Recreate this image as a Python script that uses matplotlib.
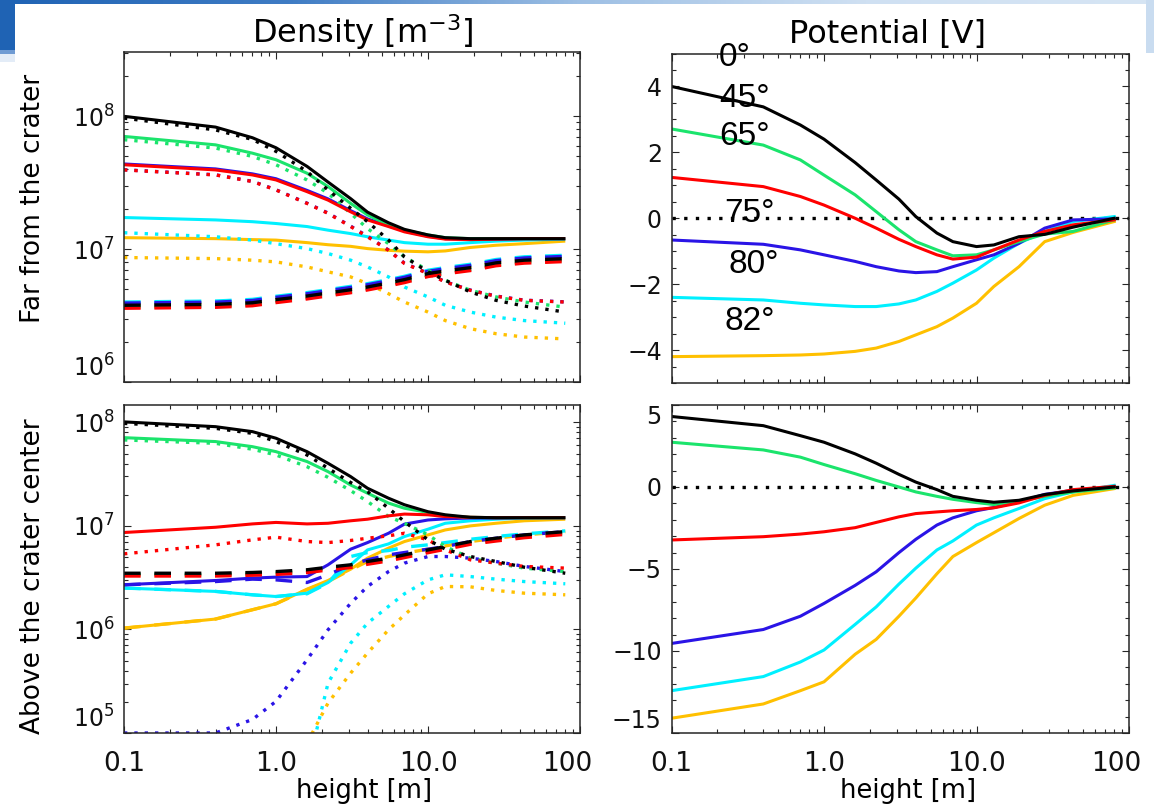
import numpy as np
import matplotlib
matplotlib.use("Agg")
import matplotlib.pyplot as plt
from matplotlib.colors import LinearSegmentedColormap
from matplotlib.patches import Rectangle
from matplotlib.ticker import (FixedLocator, FixedFormatter, LogLocator,
                               LogFormatterMathtext, MultipleLocator, NullFormatter)
from matplotlib.transforms import ScaledTranslation

nan = np.nan

# ---------------------------------------------------------------- data
height = [0.1, 0.4, 0.7, 1.0, 1.6, 2.2, 3.1, 4.0, 5.5, 7.0, 10.0, 13.0, 19.0, 28.0, 43.0, 80.0]

angles = ["0°", "45°", "65°", "75°", "80°", "82°"]
x_ticks = [0.1, 1.0, 10.0, 100.0]
x_tick_labels = ["0.1", "1.0", "10.0", "100"]

# density far from the crater [m^-3]
far_black_solid = [1.0e8, 8.3e7, 6.9e7, 5.8e7, 4.2e7, 3.2e7, 2.4e7, 1.9e7, 1.58e7, 1.41e7, 1.28e7, 1.22e7, 1.2e7, 1.2e7, 1.2e7, 1.2e7]
far_black_dotted = [9.7e7, 7.9e7, 6.7e7, 5.45e7, 3.84e7, 2.79e7, 2.03e7, 1.61e7, 1.17e7, 8.75e6, 6.75e6, 5.83e6, 4.76e6, 4.12e6, 3.73e6, 3.36e6]
far_black_dashed = [3.78e6, 3.84e6, 3.95e6, 4.17e6, 4.44e6, 4.68e6, 4.95e6, 5.19e6, 5.57e6, 5.9e6, 6.55e6, 6.86e6, 7.26e6, 7.89e6, 8.26e6, 8.49e6]
far_green_solid = [7.06e7, 6.1e7, 5.28e7, 4.71e7, 3.73e7, 2.96e7, 2.21e7, 1.81e7, 1.52e7, 1.39e7, 1.28e7, 1.22e7, 1.2e7, 1.2e7, 1.2e7, 1.2e7]
far_green_dotted = [6.67e7, 5.77e7, 4.99e7, 4.32e7, 3.32e7, 2.64e7, 1.86e7, 1.43e7, 1.1e7, 8.75e6, 6.93e6, 5.83e6, 4.9e6, 4.37e6, 4.0e6, 3.66e6]
far_green_dashed = [3.67e6, 3.72e6, 3.83e6, 4.04e6, 4.31e6, 4.54e6, 4.8e6, 5.03e6, 5.4e6, 5.72e6, 6.35e6, 6.65e6, 7.04e6, 7.65e6, 8.01e6, 8.24e6]
far_red_solid = [4.32e7, 3.95e7, 3.62e7, 3.32e7, 2.71e7, 2.34e7, 1.91e7, 1.66e7, 1.48e7, 1.35e7, 1.24e7, 1.19e7, 1.18e7, 1.19e7, 1.2e7, 1.2e7]
far_red_dotted = [3.95e7, 3.62e7, 3.23e7, 2.79e7, 2.21e7, 1.86e7, 1.48e7, 1.24e7, 9.8e6, 7.8e6, 6.55e6, 5.66e6, 4.9e6, 4.42e6, 4.12e6, 4.0e6]
far_red_dashed = [3.59e6, 3.65e6, 3.75e6, 3.96e6, 4.22e6, 4.45e6, 4.7e6, 4.93e6, 5.29e6, 5.6e6, 6.22e6, 6.52e6, 6.9e6, 7.5e6, 7.85e6, 8.07e6]
far_blue_solid = [4.38e7, 4.02e7, 3.69e7, 3.39e7, 2.77e7, 2.39e7, 1.95e7, 1.69e7, 1.5e7, 1.37e7, 1.25e7, 1.2e7, 1.19e7, 1.19e7, 1.2e7, 1.2e7]
far_blue_dotted = [3.96e7, 3.63e7, 3.24e7, 2.8e7, 2.22e7, 1.87e7, 1.49e7, 1.25e7, 9.85e6, 7.84e6, 6.58e6, 5.68e6, 4.92e6, 4.44e6, 4.13e6, 4.01e6]
far_blue_dashed = [3.93e6, 3.99e6, 4.11e6, 4.34e6, 4.62e6, 4.87e6, 5.15e6, 5.4e6, 5.79e6, 6.14e6, 6.81e6, 7.13e6, 7.55e6, 8.2e6, 8.59e6, 8.83e6]
far_cyan_solid = [1.73e7, 1.66e7, 1.61e7, 1.56e7, 1.48e7, 1.39e7, 1.31e7, 1.24e7, 1.17e7, 1.12e7, 1.09e7, 1.09e7, 1.12e7, 1.15e7, 1.17e7, 1.19e7]
far_cyan_dotted = [1.33e7, 1.24e7, 1.17e7, 1.1e7, 1.01e7, 9.27e6, 8.26e6, 7.35e6, 6.18e6, 5.19e6, 4.37e6, 3.78e6, 3.36e6, 3.08e6, 2.9e6, 2.77e6]
far_cyan_dashed = [4.0e6, 4.07e6, 4.19e6, 4.42e6, 4.71e6, 4.96e6, 5.25e6, 5.5e6, 5.9e6, 6.25e6, 6.94e6, 7.27e6, 7.7e6, 8.36e6, 8.76e6, 9.0e6]
far_orange_solid = [1.22e7, 1.2e7, 1.18e7, 1.17e7, 1.12e7, 1.08e7, 1.05e7, 1.01e7, 9.8e6, 9.66e6, 9.55e6, 9.7e6, 1.03e7, 1.07e7, 1.1e7, 1.15e7]
far_orange_dotted = [8.65e6, 8.49e6, 8.26e6, 8.02e6, 7.35e6, 6.75e6, 6.18e6, 5.51e6, 4.62e6, 4.0e6, 3.36e6, 2.9e6, 2.52e6, 2.31e6, 2.18e6, 2.11e6]
far_orange_dashed = [3.86e6, 3.92e6, 4.03e6, 4.25e6, 4.53e6, 4.77e6, 5.05e6, 5.29e6, 5.68e6, 6.02e6, 6.68e6, 7.0e6, 7.4e6, 8.05e6, 8.43e6, 8.66e6]

# density above the crater center [m^-3]
ctr_black_solid = [1.01e8, 9.08e7, 8.13e7, 7.02e7, 5.21e7, 4.02e7, 2.99e7, 2.31e7, 1.85e7, 1.6e7, 1.37e7, 1.28e7, 1.21e7, 1.2e7, 1.2e7, 1.2e7]
ctr_black_dotted = [9.77e7, 8.75e7, 7.83e7, 6.52e7, 4.84e7, 3.6e7, 2.62e7, 2.14e7, 1.48e7, 1.1e7, 7.33e6, 5.96e6, 5.06e6, 4.53e6, 3.99e6, 3.49e6]
ctr_black_dashed = [3.49e6, 3.49e6, 3.55e6, 3.62e6, 3.77e6, 3.99e6, 4.21e6, 4.53e6, 4.88e6, 5.25e6, 5.86e6, 6.32e6, 7.06e6, 7.6e6, 8.18e6, 8.81e6]
ctr_green_solid = [7.11e7, 6.52e7, 5.82e7, 5.21e7, 4.18e7, 3.34e7, 2.48e7, 2.07e7, 1.66e7, 1.48e7, 1.35e7, 1.25e7, 1.21e7, 1.2e7, 1.2e7, 1.2e7]
ctr_green_dotted = [6.76e7, 6.27e7, 5.5e7, 4.84e7, 3.73e7, 2.94e7, 2.19e7, 1.72e7, 1.23e7, 1.06e7, 8.18e6, 6.32e6, 4.88e6, 4.37e6, 3.91e6, 3.62e6]
ctr_green_dashed = [3.39e6, 3.39e6, 3.44e6, 3.51e6, 3.66e6, 3.87e6, 4.08e6, 4.39e6, 4.73e6, 5.09e6, 5.68e6, 6.13e6, 6.85e6, 7.37e6, 7.93e6, 8.55e6]
ctr_red_solid = [8.63e6, 9.7e6, 1.045e7, 1.08e7, 1.045e7, 1.06e7, 1.12e7, 1.16e7, 1.25e7, 1.3e7, 1.28e7, 1.23e7, 1.21e7, 1.2e7, 1.2e7, 1.2e7]
ctr_red_dotted = [5.37e6, 6.56e6, 7.33e6, 7.78e6, 7.06e6, 6.9e6, 7.23e6, 7.6e6, 8.02e6, 8.49e6, 7.33e6, 5.86e6, 4.7e6, 4.37e6, 4.06e6, 3.91e6]
ctr_red_dashed = [3.28e6, 3.28e6, 3.34e6, 3.4e6, 3.54e6, 3.75e6, 3.96e6, 4.26e6, 4.59e6, 4.94e6, 5.51e6, 5.94e6, 6.64e6, 7.14e6, 7.69e6, 8.28e6]
ctr_blue_solid = [2.7e6, 2.97e6, 3.13e6, 3.2e6, 3.24e6, 4.21e6, 5.96e6, 6.9e6, 8.49e6, 1.04e7, 1.14e7, 1.17e7, 1.19e7, 1.19e7, 1.2e7, 1.2e7]
ctr_blue_dotted = [1.0e5, 1.0e5, 1.35e5, 2.02e5, 5.09e5, 9.93e5, 1.79e6, 2.6e6, 3.62e6, 4.37e6, 5.06e6, 5.06e6, 4.88e6, 4.53e6, 4.06e6, 3.62e6]
ctr_blue_dashed = [2.7e6, 2.9e6, 3.06e6, 3.01e6, 2.84e6, 3.37e6, 4.21e6, 4.7e6, 5.25e6, 5.53e6, 5.96e6, 6.32e6, 7.06e6, 7.6e6, 8.18e6, 8.81e6]
ctr_cyan_solid = [2.51e6, 2.33e6, 2.16e6, 2.08e6, 2.24e6, 2.84e6, 4.21e6, 5.86e6, 6.7e6, 7.89e6, 9.29e6, 1.06e7, 1.12e7, 1.16e7, 1.19e7, 1.2e7]
ctr_cyan_dotted = [nan, nan, nan, nan, 4.43e4, 3.03e5, 7.38e5, 1.15e6, 1.67e6, 2.21e6, 3.01e6, 3.37e6, 3.24e6, 3.06e6, 2.9e6, 2.76e6]
ctr_cyan_dashed = [2.51e6, 2.33e6, 2.16e6, 2.08e6, 2.21e6, 2.8e6, 5.06e6, 5.53e6, 5.78e6, 6.22e6, 6.56e6, 6.9e6, 7.43e6, 7.89e6, 8.38e6, 8.95e6]
ctr_orange_solid = [1.03e6, 1.26e6, 1.55e6, 1.77e6, 2.45e6, 2.97e6, 3.82e6, 4.88e6, 6.1e6, 7.06e6, 8.18e6, 9.14e6, 1.0e7, 1.06e7, 1.12e7, 1.16e7]
ctr_orange_dotted = [nan, nan, nan, nan, 8.0e4, 1.95e5, 3.79e5, 5.91e5, 9.93e5, 1.38e6, 2.21e6, 2.6e6, 2.58e6, 2.38e6, 2.24e6, 2.16e6]
ctr_orange_dashed = [1.03e6, 1.26e6, 1.55e6, 1.77e6, 2.42e6, 2.9e6, 3.77e6, 4.53e6, 5.06e6, 5.45e6, 5.96e6, 6.41e6, 7.06e6, 7.6e6, 8.18e6, 8.81e6]

# potential [V]
far_pot_black = [4.0, 3.38, 2.83, 2.40, 1.69, 1.16, 0.58, 0.05, -0.45, -0.71, -0.86, -0.81, -0.56, -0.49, -0.27, 0.0]
far_pot_green = [2.71, 2.22, 1.77, 1.31, 0.71, 0.20, -0.35, -0.71, -0.96, -1.14, -1.11, -0.96, -0.71, -0.48, -0.40, -0.05]
far_pot_red = [1.24, 0.96, 0.66, 0.40, 0.0, -0.30, -0.64, -0.86, -1.11, -1.24, -1.18, -0.96, -0.66, -0.40, -0.20, -0.05]
far_pot_blue = [-0.66, -0.79, -0.96, -1.11, -1.31, -1.47, -1.60, -1.65, -1.62, -1.47, -1.26, -1.11, -0.76, -0.30, -0.05, -0.02]
far_pot_cyan = [-2.40, -2.48, -2.58, -2.63, -2.68, -2.68, -2.60, -2.48, -2.22, -1.97, -1.57, -1.21, -0.76, -0.40, -0.10, 0.05]
far_pot_orange = [-4.20, -4.17, -4.15, -4.12, -4.04, -3.94, -3.74, -3.54, -3.29, -3.03, -2.58, -2.07, -1.47, -0.71, -0.43, -0.10]

ctr_pot_black = [4.30, 3.74, 3.13, 2.73, 2.02, 1.45, 0.77, 0.30, -0.16, -0.57, -0.81, -0.93, -0.81, -0.46, -0.24, 0.0]
ctr_pot_green = [2.73, 2.26, 1.82, 1.37, 0.81, 0.40, 0.0, -0.30, -0.57, -0.75, -0.95, -1.07, -0.87, -0.57, -0.30, -0.06]
ctr_pot_red = [-3.23, -3.03, -2.87, -2.73, -2.48, -2.16, -1.82, -1.62, -1.52, -1.45, -1.37, -1.27, -0.97, -0.51, -0.16, 0.04]
ctr_pot_blue = [-9.54, -8.69, -7.88, -7.10, -6.00, -5.17, -4.00, -3.19, -2.32, -1.88, -1.45, -1.25, -0.90, -0.45, -0.20, 0.0]
ctr_pot_cyan = [-12.42, -11.56, -10.67, -9.94, -8.38, -7.31, -5.92, -4.95, -3.84, -3.29, -2.32, -1.88, -1.31, -0.71, -0.30, 0.10]
ctr_pot_orange = [-14.1, -13.23, -12.42, -11.88, -10.2, -9.29, -7.88, -6.77, -5.29, -4.24, -3.39, -2.79, -1.92, -1.11, -0.51, -0.10]

# ---------------------------------------------------------------- styling
COLORS = {"black": "#000000", "green": "#1be46c", "red": "#ff0000",
          "blue": "#2a14e6", "cyan": "#00f0ff", "orange": "#ffc000"}
DRAW_ORDER = ["orange", "cyan", "blue", "green", "red", "black"]
LINESTYLES = {"solid": dict(lw=2.2, ls="-"),
              "dotted": dict(lw=2.4, ls=(0, (1.0, 2.1))),
              "dashed": dict(lw=2.4, ls=(0, (5.0, 4.1)))}

far_density = {
    ("black", "solid"): far_black_solid, ("black", "dotted"): far_black_dotted, ("black", "dashed"): far_black_dashed,
    ("green", "solid"): far_green_solid, ("green", "dotted"): far_green_dotted, ("green", "dashed"): far_green_dashed,
    ("red", "solid"): far_red_solid, ("red", "dotted"): far_red_dotted, ("red", "dashed"): far_red_dashed,
    ("blue", "solid"): far_blue_solid, ("blue", "dotted"): far_blue_dotted, ("blue", "dashed"): far_blue_dashed,
    ("cyan", "solid"): far_cyan_solid, ("cyan", "dotted"): far_cyan_dotted, ("cyan", "dashed"): far_cyan_dashed,
    ("orange", "solid"): far_orange_solid, ("orange", "dotted"): far_orange_dotted, ("orange", "dashed"): far_orange_dashed,
}
ctr_density = {
    ("black", "solid"): ctr_black_solid, ("black", "dotted"): ctr_black_dotted, ("black", "dashed"): ctr_black_dashed,
    ("green", "solid"): ctr_green_solid, ("green", "dotted"): ctr_green_dotted, ("green", "dashed"): ctr_green_dashed,
    ("red", "solid"): ctr_red_solid, ("red", "dotted"): ctr_red_dotted, ("red", "dashed"): ctr_red_dashed,
    ("blue", "solid"): ctr_blue_solid, ("blue", "dotted"): ctr_blue_dotted, ("blue", "dashed"): ctr_blue_dashed,
    ("cyan", "solid"): ctr_cyan_solid, ("cyan", "dotted"): ctr_cyan_dotted, ("cyan", "dashed"): ctr_cyan_dashed,
    ("orange", "solid"): ctr_orange_solid, ("orange", "dotted"): ctr_orange_dotted, ("orange", "dashed"): ctr_orange_dashed,
}
far_potential = {"black": far_pot_black, "green": far_pot_green, "red": far_pot_red,
                 "blue": far_pot_blue, "cyan": far_pot_cyan, "orange": far_pot_orange}
ctr_potential = {"black": ctr_pot_black, "green": ctr_pot_green, "red": ctr_pot_red,
                 "blue": ctr_pot_blue, "cyan": ctr_pot_cyan, "orange": ctr_pot_orange}

W, H, DPI = 1154, 808, 100
FRAME = "#262626"
plt.rcParams["font.family"] = ["DejaVu Sans"]
plt.rcParams["mathtext.fontset"] = "dejavusans"

fig = plt.figure(figsize=(W / DPI, H / DPI), dpi=DPI, facecolor="white")


def px_axes(x0, y0, x1, y1):
    return fig.add_axes([x0 / W, 1 - y1 / H, (x1 - x0) / W, (y1 - y0) / H])


def frame(ax, bottom_labels):
    ax.set_xscale("log")
    ax.set_xlim(0.1, 100)
    ax.xaxis.set_major_locator(FixedLocator(x_ticks))
    ax.xaxis.set_major_formatter(FixedFormatter(x_tick_labels))
    ax.xaxis.set_minor_locator(LogLocator(base=10, subs=np.arange(2, 10), numticks=20))
    ax.xaxis.set_minor_formatter(NullFormatter())
    ax.tick_params(which="both", direction="in", top=True, right=True,
                   width=0.8, color=FRAME, labelcolor="#111111")
    ax.tick_params(which="major", length=5.2)
    ax.tick_params(which="minor", length=2.7)
    ax.tick_params(axis="y", labelsize=17, pad=7)
    ax.tick_params(axis="x", labelsize=19, pad=13, labelbottom=bottom_labels)
    for sp in ax.spines.values():
        sp.set_linewidth(1.1)
        sp.set_color(FRAME)


def log_y(ax, lo, hi, majors):
    ax.set_yscale("log")
    ax.set_ylim(lo, hi)
    ax.yaxis.set_major_locator(FixedLocator(majors))
    ax.yaxis.set_major_formatter(LogFormatterMathtext())
    ax.yaxis.set_minor_locator(LogLocator(base=10, subs=np.arange(2, 10), numticks=20))
    ax.yaxis.set_minor_formatter(NullFormatter())


def draw_density(ax, table):
    for color in DRAW_ORDER:
        for style in ("dashed", "dotted", "solid"):
            ax.plot(height, table[(color, style)], color=COLORS[color],
                    solid_capstyle="butt", dash_capstyle="butt", **LINESTYLES[style])


def draw_potential(ax, table):
    ax.axhline(0.0, color="black", lw=2.4, ls=(0, (1.0, 2.5)), dash_capstyle="butt")
    for color in DRAW_ORDER:
        ax.plot(height, table[color], color=COLORS[color], lw=2.2)


ax_tl = px_axes(124, 52, 580, 382)
ax_tr = px_axes(671.5, 53.5, 1129, 383)
ax_bl = px_axes(124, 405, 580, 733)
ax_br = px_axes(671.5, 405, 1129, 733)

for ax, lab in ((ax_tl, False), (ax_tr, False), (ax_bl, True), (ax_br, True)):
    frame(ax, lab)

log_y(ax_tl, 1e6, 3.05e8, [1e6, 1e7, 1e8])
log_y(ax_bl, 1e5, 1.47e8, [1e5, 1e6, 1e7, 1e8])

ax_tr.set_ylim(-5, 5)
ax_tr.yaxis.set_major_locator(MultipleLocator(2))
ax_tr.yaxis.set_minor_locator(MultipleLocator(0.5))
ax_br.set_ylim(-15, 5)
ax_br.yaxis.set_major_locator(MultipleLocator(5))
ax_br.yaxis.set_minor_locator(MultipleLocator(1))

draw_density(ax_tl, far_density)
draw_density(ax_bl, ctr_density)
draw_potential(ax_tr, far_potential)
draw_potential(ax_br, ctr_potential)

# ---------------------------------------------------------------- texts
def ftext(x, y, s, **kw):
    return fig.text(x / W, 1 - y / H, s, **kw)


ftext(363, 43, "Density [m$^{-3}$]", ha="center", va="baseline", fontsize=23)
ftext(888, 43, "Potential [V]", ha="center", va="baseline", fontsize=23)
ftext(33, 198, "Far from the crater", rotation=90, ha="center", va="center", fontsize=19)
ftext(33, 576, "Above the crater center", rotation=90, ha="center", va="center", fontsize=19)
ftext(364, 791, "height [m]", ha="center", va="center", fontsize=18.5)
ftext(908, 791, "height [m]", ha="center", va="center", fontsize=18.5)

angle_pos = [(719, 66), (719, 107), (719, 145), (724, 222), (728, 273), (724, 330)]
for name, (x, y) in zip(angles, angle_pos):
    ftext(x, y, name, ha="left", va="baseline", fontsize=24,
          family=["Liberation Sans", "DejaVu Sans"])

# ---------------------------------------------------------------- slide trim
blue_fade = LinearSegmentedColormap.from_list(
    "slide_fade", ["#1f63b4", "#3f7cc4", "#9dbfe4", "#cfe0f2", "#d6e5f4"])
bar = fig.add_axes([0, 1 - 4 / H, 1, 4 / H])
bar.imshow(np.linspace(0, 1, 512)[None, :], aspect="auto", cmap=blue_fade,
           extent=(0, 1, 0, 1))
bar.set_axis_off()
fig.patches.append(Rectangle((0, 1 - 50 / H), 15 / W, 50 / H, transform=fig.transFigure,
                             facecolor="#1f63b4", edgecolor="none", zorder=0))
fig.patches.append(Rectangle((0, 1 - 54 / H), 15 / W, 4 / H, transform=fig.transFigure,
                             facecolor="#6f9bd3", edgecolor="none", zorder=0))
fig.patches.append(Rectangle((0, 1 - 62 / H), 15 / W, 8 / H, transform=fig.transFigure,
                             facecolor="#e3ecf7", edgecolor="none", zorder=0))
fig.patches.append(Rectangle((1146 / W, 1 - 53 / H), 8 / W, 53 / H, transform=fig.transFigure,
                             facecolor="#c9dcf0", edgecolor="none", zorder=0))

# ---------------------------------------------------------------- end labels
fig.canvas.draw()
for ax in (ax_tl, ax_bl, ax_br, ax_tr):
    lo, hi = ax.get_ylim()
    for t in ax.yaxis.get_major_ticks():
        loc = t.get_loc()
        if np.isclose(loc, lo, rtol=1e-6):
            t.label1.set_va("bottom")
        elif np.isclose(loc, hi, rtol=1e-6):
            t.label1.set_va("top")
for ax in (ax_bl, ax_br):
    for t in ax.xaxis.get_major_ticks():
        if np.isclose(t.get_loc(), 100.0):
            t.label1.set_transform(t.label1.get_transform()
                                   + ScaledTranslation(-13 / DPI, 0, fig.dpi_scale_trans))

fig.savefig("out.png", dpi=DPI, facecolor="white")
